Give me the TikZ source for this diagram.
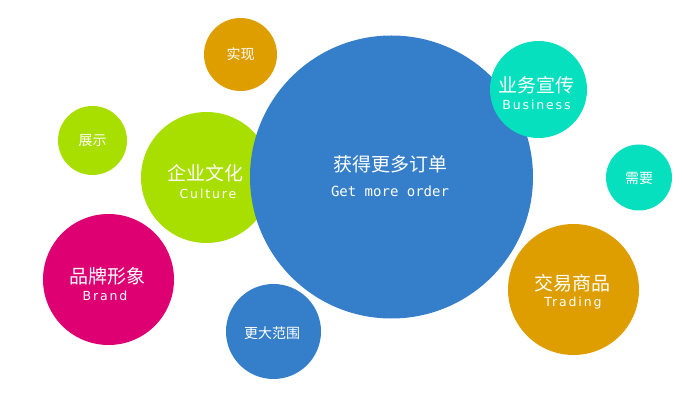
\documentclass[tikz,border=0pt]{standalone}
\usepackage{fontspec}
\usepackage{tikz}
\setmainfont{DejaVu Sans}
\newfontfamily\cjk{Noto Sans CJK SC}
\newfontfamily\latsp[LetterSpace=15]{DejaVu Sans}
\newfontfamily\monof{DejaVu Sans Mono}
\definecolor{bblue}{RGB}{53,126,201}
\definecolor{blime}{RGB}{168,222,0}
\definecolor{borange}{RGB}{222,158,0}
\definecolor{bmagenta}{RGB}{222,0,115}
\definecolor{bteal}{RGB}{6,224,190}

\begin{document}
\begin{tikzpicture}[x=1pt,y=-1pt,
    bub/.style={circle,inner sep=0pt,minimum size=#1},
    bigcn/.style={text=white,font=\cjk\fontsize{19}{19}\selectfont},
    smallcn/.style={text=white,font=\cjk\fontsize{14}{14}\selectfont},
    subtxt/.style={text=white,font=\latsp\fontsize{12.5}{12.5}\selectfont},
    monotxt/.style={text=white,font=\monof\fontsize{14}{14}\selectfont}]
    \useasboundingbox (0,0) rectangle (682,411);
    % small ones
    \node[bub=73pt,fill=borange] (shixian) at (240.5,54.5) {};
    \node[smallcn] (shixianT) at (240.5,54.5) {实现};
    \node[bub=69pt,fill=blime] (zhanshi) at (92.5,140.5) {};
    \node[smallcn] (zhanshiT) at (92.5,141) {展示};
    \node[bub=66pt,fill=bteal] (xuyao) at (639,177.5) {};
    \node[smallcn] (xuyaoT) at (639,178) {需要};
    \node[bub=95pt,fill=bblue] (fanwei) at (273.5,331.5) {};
    \node[smallcn] (fanweiT) at (272,333) {更大范围};
    % culture (under the big one)
    \node[bub=131pt,fill=blime] (culture) at (206.5,177.5) {};
    \node[bigcn] (cultureT) at (205,173) {企业文化};
    \node[subtxt] (cultureS) at (208,194) {Culture};
    % big one
    \node[bub=283pt,fill=bblue] (order) at (391.5,177) {};
    \node[bigcn] (orderT) at (390,164) {获得更多订单};
    \node[monotxt] (orderS) at (390,191) {Get more order};
    % business
    \node[bub=97pt,fill=bteal] (business) at (538.5,89.5) {};
    \node[bigcn] (businessT) at (536.5,85) {业务宣传};
    \node[subtxt] (businessS) at (536.5,105) {Business};
    % brand
    \node[bub=131pt,fill=bmagenta] (brand) at (108.5,279.5) {};
    \node[bigcn] (brandT) at (107.5,276) {品牌形象};
    \node[subtxt] (brandS) at (105,296) {Brand};
    % trading
    \node[bub=131pt,fill=borange] (trading) at (573.5,289.5) {};
    \node[bigcn] (tradingT) at (572,283) {交易商品};
    \node[subtxt] (tradingS) at (573,303) {Trading};
\end{tikzpicture}
\end{document}
